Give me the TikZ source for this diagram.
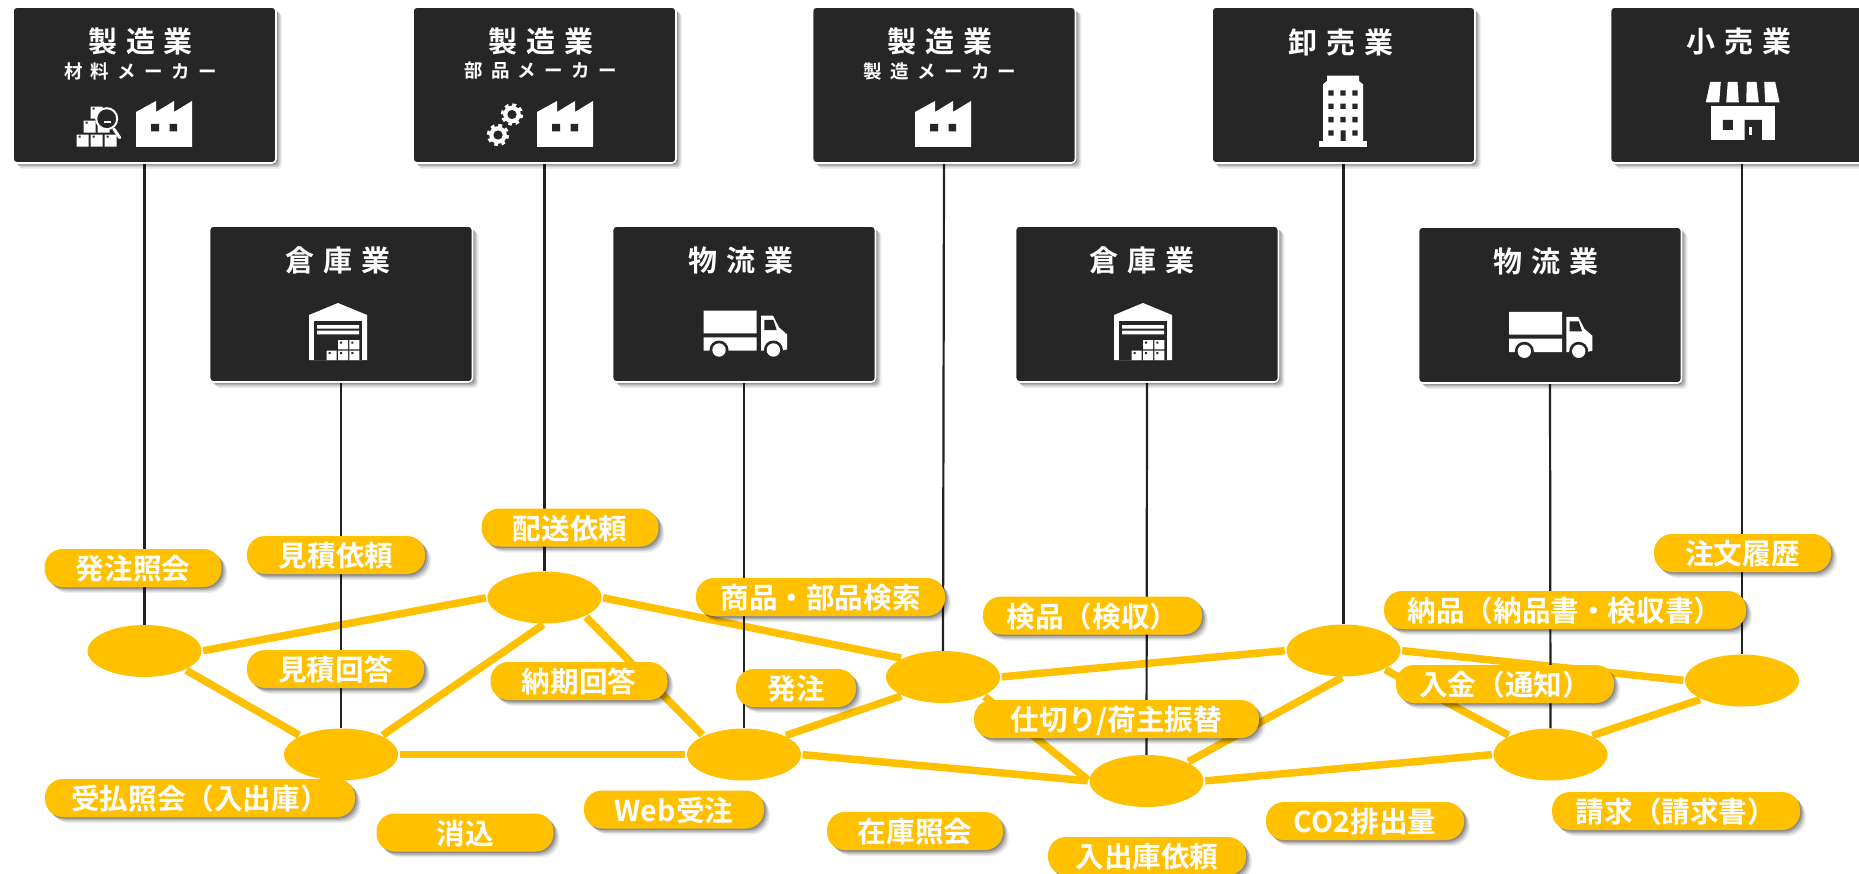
\documentclass[tikz,border=0pt]{standalone}
\usepackage{xcolor}
\usepackage{fontspec}
\usepackage{tikz}
\usetikzlibrary{shapes,shadows,backgrounds}
\setmainfont{Noto Sans CJK JP}[BoldFont={Noto Sans CJK JP Bold}]
\newfontfamily\boxfont{Noto Sans CJK JP Bold}[LetterSpace=30]
\newfontfamily\subfont{Noto Sans CJK JP Bold}[LetterSpace=45]
\definecolor{boxgray}{RGB}{38, 38, 38}
\definecolor{accentyellow}{RGB}{255, 192, 0}
\definecolor{linegray}{RGB}{34, 34, 34}
\newcommand{\boxtitle}{\boxfont\fontsize{29}{32}\selectfont}
\newcommand{\boxsub}{\subfont\fontsize{18.5}{20}\selectfont}

\tikzset{
    softshadow/.style={
        drop shadow={shadow xshift=1.5pt, shadow yshift=-1.5pt, fill=black, opacity=0.2},
        drop shadow={shadow xshift=3pt, shadow yshift=-3pt, fill=black, opacity=0.16},
        drop shadow={shadow xshift=4.5pt, shadow yshift=-4.5pt, fill=black, opacity=0.12},
        drop shadow={shadow xshift=6pt, shadow yshift=-6pt, fill=black, opacity=0.07}
    },
    industrybox/.style={
        rectangle, fill=boxgray, draw=white, line width=1.6pt, rounded corners=4pt,
        minimum width=263pt, minimum height=156pt, inner sep=0pt, softshadow
    },
    boxtext/.style={text=white, inner sep=0pt},
    hub/.style={ellipse, fill=accentyellow, minimum width=114pt, minimum height=52pt, inner sep=0pt},
    link/.style={draw=accentyellow, line width=7.5pt, shorten <=1.5pt, shorten >=1.5pt},
    drop/.style={draw=linegray, line width=2.2pt},
    service/.style={
        rectangle, fill=accentyellow, rounded corners=18pt, minimum height=38pt, inner sep=0pt,
        text=white, text height=26pt, text depth=2.2pt,
        font=\bfseries\fontsize{28.6}{30}\selectfont, softshadow
    },
    factoryicon/.pic={
        \fill[white] (0,0) -- (0,-35) -- (20,-46) -- (20,-35) -- (38,-46) -- (38,-35) -- (56,-46) -- (56,0) -- cycle;
        \fill[boxgray] (15,-23) rectangle (23,-15.5) (33.5,-23) rectangle (41,-15.5);
    },
    crateicon/.pic={
        \fill[white] (0,0) rectangle (12,-12) (14,0) rectangle (26,-12) (28,0) rectangle (40,-12);
        \fill[white] (7,-14) rectangle (19,-26) (21,-14) rectangle (33,-26) (14,-28) rectangle (26,-40);
        \fill[boxgray] (2,-9) rectangle (4,-11) (16,-9) rectangle (18,-11) (30,-9) rectangle (32,-11);
        \fill[boxgray] (9,-23) rectangle (11,-25) (16,-37) rectangle (18,-39);
        \draw[white, line width=3pt, line cap=round] (37,-18) -- (43,-9);
        \draw[white, fill=boxgray, line width=2pt] (30,-28) circle (10.5);
        \fill[white] (27,-26) rectangle (34,-23.3);
    },
    gearicon/.pic={
        \draw[white, line width=4pt, dash pattern=on 3.6pt off 3.6pt] (0,0) circle (9.2);
        \fill[white] (0,0) circle (8.8);
        \fill[boxgray] (0,0) circle (4.6);
    },
    warehouseicon/.pic={
        \fill[white] (-29,0) -- (-29,-45) -- (0,-57) -- (29,-45) -- (29,0) -- cycle;
        \fill[boxgray] (-24,0) rectangle (24,-38.5);
        \fill[white] (-21,-35) rectangle (21,-31.3) (-21,-29.3) rectangle (21,-25.7);
        \fill[white] (0,-20) rectangle (10,-10.7) (11.3,-20) rectangle (21.3,-10.7);
        \fill[white] (-11.3,-9.3) rectangle (-1.3,0) (0,-9.3) rectangle (10,0) (11.3,-9.3) rectangle (21.3,0);
        \fill[boxgray] (2,-18.5) rectangle (4,-16.5) (13.3,-18.5) rectangle (15.3,-16.5);
        \fill[boxgray] (-9.3,-8) rectangle (-7.3,-6) (2,-8) rectangle (4,-6) (13.3,-8) rectangle (15.3,-6);
    },
    truckicon/.pic={
        \fill[white] (0,-40) rectangle (53,-17.3) (0,-13.3) rectangle (53,0);
        \fill[white] (57.3,-35) -- (69.3,-35) -- (75.3,-23.3) -- (83.3,-16.3) -- (83.3,-1.3) -- (78,0) -- (57.3,0) -- cycle;
        \fill[boxgray] (60.7,-30.7) -- (69.7,-30.7) -- (73,-20.7) -- (60.7,-20.7) -- cycle;
        \fill[boxgray] (15.3,-0.7) circle (9.5) (69.7,-0.7) circle (9.5);
        \fill[white] (15.3,-0.7) circle (6.7) (69.7,-0.7) circle (6.7);
    },
    buildingicon/.pic={
        \fill[white] (-23.7,0) rectangle (23.7,-6);
        \fill[white] (-20,-6) -- (-20,-62.7) -- (-16,-66) -- (-16,-71.3) -- (16,-71.3) -- (16,-66) -- (20,-62.7) -- (20,-6) -- cycle;
        \fill[boxgray] (-14.7,-51.3) rectangle (-9.3,-56.7) (-2.7,-51.3) rectangle (2.7,-56.7) (9.3,-51.3) rectangle (14.7,-56.7);
        \fill[boxgray] (-14.7,-38) rectangle (-9.3,-43.4) (-2.7,-38) rectangle (2.7,-43.4) (9.3,-38) rectangle (14.7,-43.4);
        \fill[boxgray] (-14.7,-24.6) rectangle (-9.3,-30) (-2.7,-24.6) rectangle (2.7,-30) (9.3,-24.6) rectangle (14.7,-30);
        \fill[boxgray] (-14.7,-11.3) rectangle (-9.3,-16.7) (-2.5,-6) rectangle (2.5,-16.7) (9.3,-11.3) rectangle (14.7,-16.7);
    },
    shopicon/.pic={
        \fill[white] (-32.3,-20.3) -- (-21.7,-20.3) -- (-23.3,0) -- (-36.7,0) -- cycle;
        \fill[white] (-14.7,-20.3) -- (-5,-20.3) -- (-3.7,0) -- (-16.3,0) -- cycle;
        \fill[white] (4.3,-20.3) -- (14,-20.3) -- (16.3,0) -- (3.7,0) -- cycle;
        \fill[white] (21.7,-20.3) -- (32.7,-20.3) -- (37,0) -- (22.7,0) -- cycle;
        \fill[white] (-32,3.7) rectangle (32,37.7);
        \fill[boxgray] (-19.7,17.7) rectangle (-9.7,27.7) (2,17.7) rectangle (19.3,37.7);
        \fill[white] (6.7,25) rectangle (9.3,33);
    }
}

\begin{document}
\begin{tikzpicture}[x=1pt, y=-1pt]
    \useasboundingbox (0,0) rectangle (1859,874);

    % top row
    \node[industrybox] (maker1) at (144.5,85) {};
    \node[boxtext, font=\boxtitle] (maker1title) at (140.6,42) {製造業};
    \node[boxtext, font=\boxsub] (maker1sub) at (140.5,71) {材料メーカー};
    \node[industrybox] (maker2) at (544.5,85) {};
    \node[boxtext, font=\boxtitle] (maker2title) at (540.8,42) {製造業};
    \node[boxtext, font=\boxsub] (maker2sub) at (540.6,71) {部品メーカー};
    \node[industrybox] (maker3) at (944,85) {};
    \node[boxtext, font=\boxtitle] (maker3title) at (939.8,42) {製造業};
    \node[boxtext, font=\boxsub] (maker3sub) at (940,71) {製造メーカー};
    \node[industrybox] (wholesale) at (1343.5,85) {};
    \node[boxtext, font=\boxtitle] (wholesaletitle) at (1341,42) {卸売業};
    \node[industrybox] (retail) at (1742,85) {};
    \node[boxtext, font=\boxtitle] (retailtitle) at (1739,42) {小売業};

    % second row
    \node[industrybox] (storage1) at (341,304) {};
    \node[boxtext, font=\boxtitle] (storage1title) at (338,260) {倉庫業};
    \node[industrybox] (carrier1) at (744,304) {};
    \node[boxtext, font=\boxtitle] (carrier1title) at (741,260) {物流業};
    \node[industrybox] (storage2) at (1147,304) {};
    \node[boxtext, font=\boxtitle] (storage2title) at (1142,260) {倉庫業};
    \node[industrybox] (carrier2) at (1550,305) {};
    \node[boxtext, font=\boxtitle] (carrier2title) at (1546,261) {物流業};

    % icons
    \pic at (76.7,146.7) {crateicon};
    \pic at (136,147) {factoryicon};
    \pic at (512,114.5) {gearicon};
    \pic at (498,135) {gearicon};
    \pic at (537,147) {factoryicon};
    \pic at (915,147) {factoryicon};
    \pic at (1343,147) {buildingicon};
    \pic at (1742.5,102.3) {shopicon};
    \pic at (338,360) {warehouseicon};
    \pic at (703.7,350.7) {truckicon};
    \pic at (1143,360) {warehouseicon};
    \pic at (1509,352) {truckicon};

    % hubs
    \node[hub] (hub1) at (144.5,651) {};
    \node[hub] (hub2) at (341,754.5) {};
    \node[hub] (hub3) at (544.5,597.5) {};
    \node[hub] (hub4) at (744,754.5) {};
    \node[hub] (hub5) at (943,677) {};
    \node[hub] (hub6) at (1146.5,781) {};
    \node[hub] (hub7) at (1343.5,650.5) {};
    \node[hub] (hub8) at (1550.5,754.5) {};
    \node[hub] (hub9) at (1742,680.5) {};

    \begin{scope}[on background layer]
        \path[link] (hub1.east) -- (hub3.west);
        \path[link] (hub1.south east) -- (hub2.north west);
        \path[link] (hub2.north east) -- (hub3.south);
        \path[link] (hub2.east) -- (hub4.west);
        \path[link] (hub3.south east) -- (hub4.north west);
        \path[link] (hub3.east) -- (hub5.north west);
        \path[link] (hub4.north east) -- (hub5.south west);
        \path[link] (hub4.east) -- (hub6.west);
        \path[link] (hub5.east) -- (hub7.west);
        \path[link] (hub5.south east) -- (hub6.west);
        \path[link] (hub6.north east) -- (hub7.south);
        \path[link] (hub6.east) -- (hub8.west);
        \path[link] (hub7.south east) -- (hub8.north west);
        \path[link] (hub7.east) -- (hub9.west);
        \path[link] (hub8.north east) -- (hub9.south west);
        \path[drop] (maker1.south) -- (hub1.north);
        \path[drop] (storage1.south) -- (hub2.north);
        \path[drop] (maker2.south) -- (hub3.north);
        \path[drop] (carrier1.south) -- (hub4.north);
        \path[drop] (maker3.south) -- (hub5.north);
        \path[drop] (storage2.south) -- (hub6.north);
        \path[drop] (wholesale.south) -- (hub7.north);
        \path[drop] (carrier2.south) -- (hub8.north);
        \path[drop] (retail.south) -- (hub9.north);
    \end{scope}

    % services
    \node[service, minimum width=177pt] (inquiry) at (133,568) {発注照会};
    \node[service, minimum width=178pt] (quotereq) at (336,555) {見積依頼};
    \node[service, minimum width=177pt] (delivery) at (570,527.5) {配送依頼};
    \node[service, minimum width=249pt] (search) at (820.5,597) {商品・部品検索};
    \node[service, minimum width=177pt] (quoteans) at (335.5,669) {見積回答};
    \node[service, minimum width=177pt] (duedate) at (579,681) {納期回答};
    \node[service, minimum width=120pt] (order) at (796,688) {発注};
    \node[service, minimum width=310pt] (stockio) at (200,798) {受払照会（入出庫）};
    \node[service, minimum width=177pt] (clearing) at (465,832.5) {消込};
    \node[service, minimum width=180pt] (weborder) at (674,809.5) {Web受注};
    \node[service, minimum width=176pt] (stock) at (915,831) {在庫照会};
    \node[service, minimum width=219pt] (inspect) at (1092.5,615.5) {検品（検収）};
    \node[service, minimum width=285pt] (settle) at (1116.5,719) {仕切り/荷主振替};
    \node[service, minimum width=198pt] (iorequest) at (1147,856) {入出庫依頼};
    \node[service, minimum width=198pt] (carbon) at (1365,821) {CO2排出量};
    \node[service, minimum width=362pt] (deliverynote) at (1565,610) {納品（納品書・検収書）};
    \node[service, minimum width=177pt] (history) at (1742.5,553) {注文履歴};
    \node[service, minimum width=218pt] (payment) at (1505,684) {入金（通知）};
    \node[service, minimum width=248pt] (invoice) at (1676,811) {請求（請求書）};
\end{tikzpicture}
\end{document}
